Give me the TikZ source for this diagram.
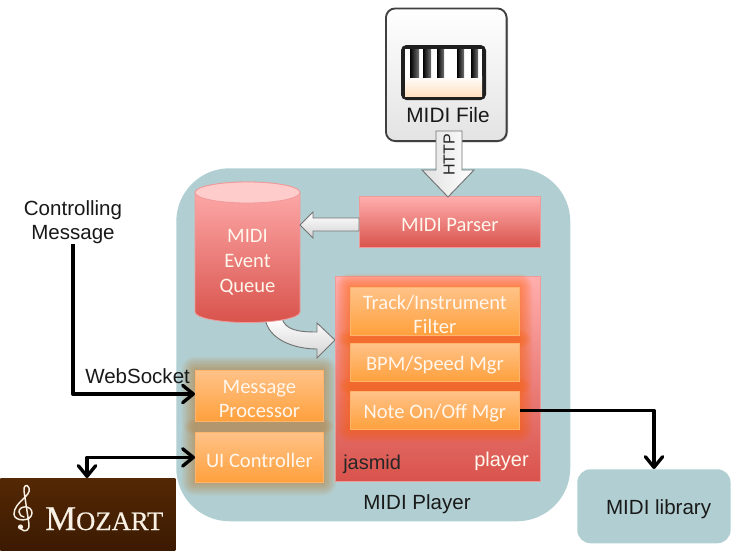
\documentclass[tikz,border=0pt]{standalone}
\usepackage{fontspec}
\setmainfont{Liberation Sans}
\newfontfamily\boxfont{Carlito}
\newfontfamily\mozfont[FakeBold=0.5]{Liberation Serif}
\usetikzlibrary{arrows.meta,calc}
\definecolor{panel}{HTML}{B1CFD2}
\definecolor{redtop}{HTML}{FFAEAE}
\definecolor{redbot}{HTML}{D9534C}
\definecolor{redline}{HTML}{F09A9A}
\definecolor{ortop}{HTML}{FFC288}
\definecolor{orbot}{HTML}{FFA03C}
\definecolor{orline}{HTML}{FFB46E}
\definecolor{boxtext}{HTML}{FFF6EC}
\definecolor{moztop}{HTML}{542804}
\definecolor{mozbot}{HTML}{3C1A02}
\definecolor{mozink}{HTML}{F8F0E4}
\newcommand{\dn}[1]{\raisebox{-2pt}[\height][\depth]{#1}}
\tikzset{
  redbox/.style={draw=redline,line width=0.6pt,top color=redtop,bottom color=redbot,font=\boxfont\fontsize{15.4}{18}\selectfont,text=boxtext,align=center,inner sep=0pt},
  orbox/.style={draw=orline,line width=0.6pt,top color=ortop,bottom color=orbot,font=\boxfont\fontsize{15.4}{18}\selectfont,text=boxtext,align=center,inner sep=0pt},
  plain/.style={font=\fontsize{15.4}{18}\selectfont,text=black!90,align=center,inner sep=0pt},
  barb/.tip={Straight Barb[length=8pt,width=13pt,line width=2.5pt,round]},
  conn/.style={line width=2.5pt,-barb,line join=round},
  biconn/.style={line width=2.5pt,barb-barb,line join=round},
  fatarrow/.style={draw=black!55,line width=0.7pt,line join=miter},
  fatfill/.style={top color=white,bottom color=black!17},
}
% soft glow round a rectangle: colour, x1, y1, x2, y2
\newcommand{\softglow}[6]{%
  \foreach \o in {1.5,3,...,13.5}
    \fill[#1,opacity=#6,rounded corners=\o*0.75pt] (#2-\o,#3-\o) rectangle (#4+\o,#5+\o);%
}
\begin{document}
\begin{tikzpicture}[x=0.75pt,y=-0.75pt]
\useasboundingbox (0,0) rectangle (731,550);
\fill[white] (0,0) rectangle (731,550);
% MIDI Player panel
\node[fill=panel,rounded corners=40pt,minimum width=295.5pt,minimum height=264.75pt,inner sep=0pt,anchor=north west] (playerpanel) at (176,168) {};
\node[plain] (playerlabel) at (417,504) {MIDI Player};
% MIDI library
\node[fill=panel,rounded corners=10pt,minimum width=115pt,minimum height=55.5pt,inner sep=0pt,anchor=north west,plain] (library) at (577,469) {\hspace{7pt}\dn{MIDI library}};
% MIDI File card
\fill[black!25,rounded corners=7pt] (387,10) rectangle (508,142);
\node[draw=black!75,line width=1.4pt,rounded corners=7pt,top color=white,bottom color=black!11,minimum width=90.5pt,minimum height=99.5pt,inner sep=0pt,anchor=north west] (file) at (385,7.5) {};
\fill[black!88,rounded corners=4pt] (401,45) rectangle (486,100);
\fill[white] (405,49) rectangle (482,77);
\fill[top color=white,bottom color=orange!25!white] (405,76) rectangle (482,96);
\foreach \ka/\kb in {410/419,423/431,437/444,457/464,471/478}
  \fill[left color=black,right color=black!55] (\ka,49) rectangle (\kb,77);
\node[plain,font=\fontsize{15.6}{18}\selectfont] (filelabel) at (448,115.5) {MIDI File};
% MIDI Parser
\node[redbox,minimum width=135.75pt,minimum height=38.25pt,anchor=north west] (parser) at (359,196) {\dn{MIDI Parser}};
% Curved block arrow lies behind the queue
\path[fatarrow,fatfill] (265,318) .. controls (268,340) and (295,349) .. (317,349) -- (317,358) -- (335,340) -- (317,323) -- (317,332) .. controls (298,332) and (285,330) .. (282,318) -- cycle;
% MIDI Event Queue
\path[draw=redline,line width=0.6pt,top color=redtop,bottom color=redbot]
  (195,192.5) -- (195,312) arc[x radius=52.5,y radius=10.5,start angle=180,end angle=0] -- (300,192.5) arc[x radius=52.5,y radius=-10.5,start angle=0,end angle=180] -- cycle;
\path[draw=redline,line width=0.6pt,fill=red!20!white]
  (247.5,192.5) ellipse[x radius=52.5,y radius=10.5];
\node[font=\boxfont\fontsize{15.4}{18.75}\selectfont,text=boxtext,align=center,inner sep=0pt] (queue) at (247.5,262.5) {MIDI\\Event\\Queue};
% Player
\node[redbox,minimum width=153.75pt,minimum height=153.75pt,anchor=north west] (player) at (335,276) {};
\softglow{orange!75!red}{350}{287}{519}{335}{0.07}
\softglow{orange!75!red}{350}{343}{519}{381}{0.07}
\softglow{orange!75!red}{350}{391}{519}{429}{0.07}
\node[orbox,minimum width=126.75pt,minimum height=36pt,anchor=north west] (filter) at (350,287) {\dn{Track/Instrument}\\\dn{Filter}};
\node[orbox,minimum width=126.75pt,minimum height=28.5pt,anchor=north west] (bpm) at (350,343) {\dn{BPM/Speed Mgr}};
\node[orbox,minimum width=126.75pt,minimum height=28.5pt,anchor=north west] (note) at (350,391) {\dn{Note On/Off Mgr}};
\node[font=\fontsize{15}{18}\selectfont,text=black!85,inner sep=0pt,anchor=base west] (jasmid) at (343,469) {jasmid};
\node[font=\fontsize{15}{18}\selectfont,text=boxtext,inner sep=0pt,anchor=base west] (playerword) at (474,466) {player};
% Left orange boxes
\softglow{orange!75!black}{195}{370}{323}{421}{0.05}
\softglow{orange!75!black}{195}{432}{323}{482}{0.05}
\node[orbox,minimum width=96pt,minimum height=38.25pt,anchor=north west] (msg) at (195,370) {\dn{Message}\\\dn{Processor}};
\node[orbox,minimum width=96pt,minimum height=37.5pt,anchor=north west] (ui) at (195,432) {\dn{UI Controller}};
% Mozart logo
\node[top color=moztop,bottom color=mozbot,minimum width=131.25pt,minimum height=54pt,inner sep=0pt,anchor=north west] (mozart) at (0,478) {};
\node[anchor=base west,inner sep=0pt,text=mozink,font=\mozfont] (mozartname) at (45,530) {\fontsize{26}{26}\selectfont M\fontsize{20}{20}\selectfont OZART};
% treble clef, no listed family has this glyph
\draw[mozink,line width=1.1pt,line cap=round]
  (21,529) .. controls (25,533) and (30,530) .. (29,524)
  -- (24,491) .. controls (23,486) and (27,483) .. (29,488)
  .. controls (32,496) and (14,502) .. (14,514)
  .. controls (14,522) and (32,522) .. (32,513)
  .. controls (32,505) and (19,505) .. (19,512)
  .. controls (19,515) and (22,517) .. (24,517);
\fill[mozink] (20.5,527) circle[radius=2.6];
% Plain labels
\node[plain] (ctrl) at (73,222) {Controlling\\Message};
\node[plain,anchor=base west] (ws) at (85,383) {WebSocket};
% Connectors
\coordinate (ctrlbend) at (73,394);
\draw[conn] (ctrl.south) -- (ctrlbend) -- (msg.west |- ctrlbend);
\coordinate (mozarttop) at (87,478);
\draw[biconn] (mozarttop) |- (ui.west);
\coordinate (libtop) at (654,469);
\draw[conn] (note.east) -| (libtop);
% Block arrows
\path[fatarrow,left color=black!12,right color=white] (436,131) -- (462,131) -- (462,170) -- (474,170) -- (448,197) -- (422,170) -- (436,170) -- cycle;
\node[rotate=90,font=\fontsize{12}{14}\selectfont,text=black!85,inner sep=0pt] (http) at (449,155) {HTTP};
\path[fatarrow,fatfill] (359,218) -- (313,218) -- (313,212) -- (300,225) -- (313,238) -- (313,231) -- (359,231) -- cycle;
\end{tikzpicture}
\end{document}
